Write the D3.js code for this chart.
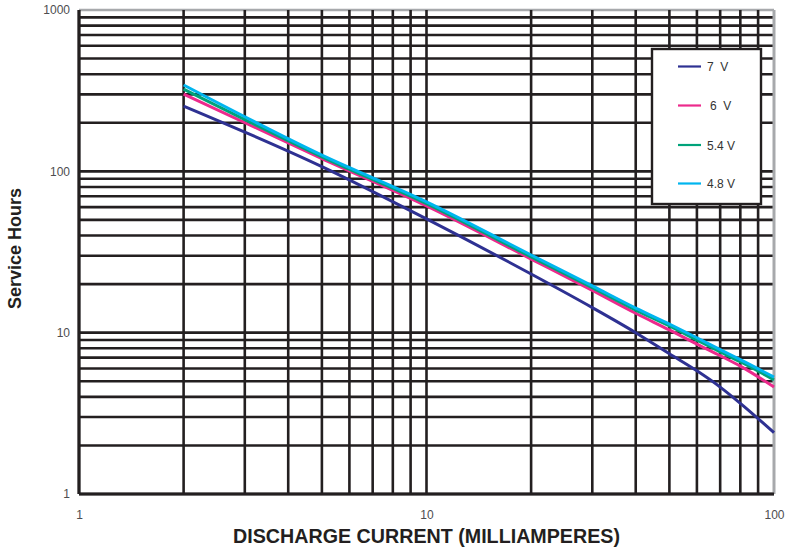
<!DOCTYPE html>
<html>
<head>
<meta charset="utf-8">
<script src="https://cdn.jsdelivr.net/npm/d3@7"></script>
<style>
  html, body { margin: 0; padding: 0; background: #ffffff; }
  svg { display: block; font-family: "Liberation Sans", Arial, Helvetica, sans-serif; }
</style>
</head>
<body>
<svg id="chart" width="786" height="550"></svg>
<script>
// ---- data ----
const currents = [2, 5, 10, 20, 30, 40, 50, 60, 70, 80, 100];
const seriesNames = ["7  V", "6  V", "5.4 V", "4.8 V"];
const hours7V  = [254, 107, 50.7, 23.1, 14.3, 10.0, 7.4, 5.8, 4.6, 3.65, 2.4];
const hours6V  = [301, 120, 61, 28.6, 18.3, 13.2, 10.4, 8.5, 7.2, 6.2, 4.6];
const hours54V = [323, 123, 63, 29.5, 19.0, 13.8, 11.0, 9.0, 7.6, 6.6, 5.1];
const hours48V = [343, 126, 64.7, 30.3, 19.5, 14.2, 11.3, 9.3, 7.85, 6.8, 5.3];
const xTickLabels = [1, 10, 100];
const yTickLabels = [1, 10, 100, 1000];
const seriesColors = ["#2e3192", "#ec2a8c", "#00a37a", "#00b5ef"];

const seriesValues = [hours7V, hours6V, hours54V, hours48V];

// ---- layout ----
const svg = d3.select("#chart");
const pLeft = 79, pRight = 774, pTop = 10, pBottom = 494;

const x = d3.scaleLog().domain([1, 100]).range([pLeft, pRight]);
const y = d3.scaleLog().domain([1, 1000]).range([pBottom, pTop]);

// grid values
const xGrid = [];
for (let d = 1; d < 100; d *= 10) for (let k = 1; k < 10; k++) xGrid.push(d * k);
xGrid.push(100);
const yGrid = [];
for (let d = 1; d < 1000; d *= 10) for (let k = 1; k < 10; k++) yGrid.push(d * k);
yGrid.push(1000);

const gridColor = "#231f20";
const borderGray = "#a7a9ac";
const gw = 2.6;

const grid = svg.append("g");
grid.selectAll("line.h").data(yGrid).enter().append("line")
  .attr("x1", pLeft).attr("x2", pRight)
  .attr("y1", d => y(d)).attr("y2", d => y(d))
  .attr("stroke", d => d === 1000 ? borderGray : gridColor)
  .attr("stroke-width", gw);
grid.selectAll("line.v").data(xGrid).enter().append("line")
  .attr("x1", d => x(d)).attr("x2", d => x(d))
  .attr("y1", pTop).attr("y2", pBottom)
  .attr("stroke", d => d === 100 ? borderGray : gridColor)
  .attr("stroke-width", d => d === 100 ? 3 : gw);
grid.append("line").attr("x1", pLeft).attr("x2", pRight).attr("y1", y(1)).attr("y2", y(1))
  .attr("stroke", gridColor).attr("stroke-width", gw + 0.4);
grid.append("line").attr("x1", x(1)).attr("x2", x(1)).attr("y1", pTop).attr("y2", pBottom)
  .attr("stroke", gridColor).attr("stroke-width", gw + 0.4);

// ---- axes (labels) ----
const labelColor = "#4d4d4f";
const yAxis = d3.axisLeft(y).tickValues(yTickLabels).tickSize(0).tickPadding(0)
  .tickFormat(d3.format("d"));
const gy = svg.append("g").attr("transform", `translate(${pLeft - 9},0)`).call(yAxis);
gy.select(".domain").remove();
gy.selectAll("text").attr("font-size", 12).attr("fill", labelColor)
  .attr("font-family", "'Liberation Sans', Arial, sans-serif");

const xAxis = d3.axisBottom(x).tickValues(xTickLabels).tickSize(0).tickPadding(0)
  .tickFormat(d3.format("d"));
const gx = svg.append("g").attr("transform", `translate(0,${pBottom + 16})`).call(xAxis);
gx.select(".domain").remove();
gx.selectAll("text").attr("font-size", 12).attr("fill", labelColor)
  .attr("font-family", "'Liberation Sans', Arial, sans-serif");

// ---- series lines ----
const line = d3.line().x(d => x(d[0])).y(d => y(d[1])).curve(d3.curveMonotoneX);
seriesValues.forEach((vals, i) => {
  svg.append("path")
    .datum(currents.map((c, j) => [c, vals[j]]))
    .attr("fill", "none")
    .attr("stroke", seriesColors[i])
    .attr("stroke-width", 3)
    .attr("stroke-linejoin", "round")
    .attr("d", line);
});

// ---- legend ----
const lg = svg.append("g");
lg.append("rect").attr("x", 652).attr("y", 49).attr("width", 109).attr("height", 155)
  .attr("fill", "#ffffff").attr("stroke", gridColor).attr("stroke-width", 2.4);
const legendY = [66.5, 105.5, 145, 183.5];
const legendTextX = [707, 710, 707, 707];
seriesNames.forEach((name, i) => {
  lg.append("line").attr("x1", 678).attr("x2", 701)
    .attr("y1", legendY[i]).attr("y2", legendY[i])
    .attr("stroke", seriesColors[i]).attr("stroke-width", 2.2);
  lg.append("text").attr("x", legendTextX[i]).attr("y", legendY[i] + 4.5)
    .attr("font-size", 12).attr("fill", "#333333")
    .style("white-space", "pre")
    .text(name);
});

// ---- titles ----
svg.append("text")
  .attr("x", x(10)).attr("y", 543)
  .attr("text-anchor", "middle")
  .attr("font-size", 19.5).attr("font-weight", "bold").attr("fill", "#231f20")
  .attr("textLength", 387).attr("lengthAdjust", "spacingAndGlyphs")
  .text("DISCHARGE CURRENT (MILLIAMPERES)");

svg.append("text")
  .attr("transform", `translate(20.5,248.5) rotate(-90)`)
  .attr("text-anchor", "middle")
  .attr("font-size", 18).attr("font-weight", "bold").attr("fill", "#231f20")
  .text("Service Hours");
</script>
</body>
</html>
